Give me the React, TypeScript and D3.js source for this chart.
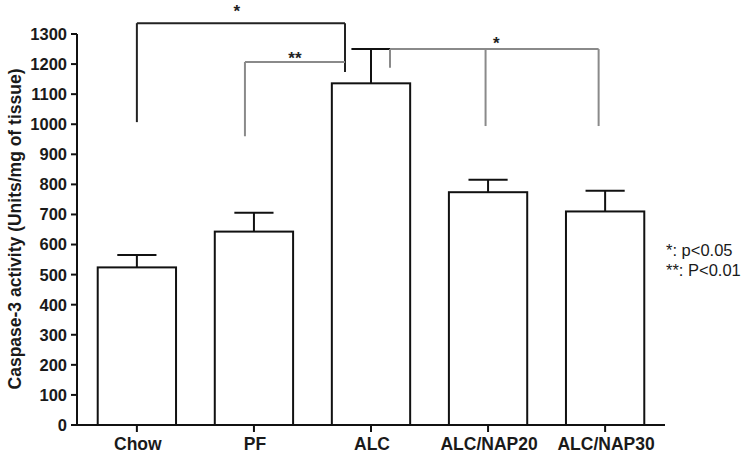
import React from "react";
import * as d3 from "d3";

const categories = ["Chow", "PF", "ALC", "ALC/NAP20", "ALC/NAP30"];
const means = [524, 643, 1136, 774, 710];
const errors = [41, 63, 114, 41, 69];
const yTicks = [0, 100, 200, 300, 400, 500, 600, 700, 800, 900, 1000, 1100, 1200, 1300];
const legendLines = ["*: p<0.05", "**: P<0.01"];

// significance brackets: legs given as [category, pixel offset from band centre, bottom value]
const brackets = [
  { label: "*", top: 1336, color: "#222", legs: [["Chow", 0, 1007], ["ALC", -26, 1174]], starAt: 0.48, starLift: 6 },
  { label: "**", top: 1207, color: "#8a8a8a", legs: [["PF", -9, 960], ["ALC", -26, 1207]], starAt: 0.5, starLift: -2 },
  { label: "*", top: 1250, color: "#8a8a8a", legs: [["ALC", 19, 1188], ["ALC/NAP20", -2.5, 994], ["ALC/NAP30", -6.5, 994]], starAt: 0.51, starLift: 0 },
];

const W = 750;
const H = 461;
const FONT = "Liberation Sans, Arial, Helvetica, sans-serif";

export default function App() {
  const x = d3.scaleBand<string>().domain(categories).range([77, 665]).paddingInner(0.331).paddingOuter(0.177);
  const y = d3.scaleLinear().domain([0, 1300]).range([425, 34]);
  const bw = x.bandwidth();
  const cx = (c: string) => (x(c) as number) + bw / 2;

  return (
    <svg width={W} height={H} style={{ position: "absolute", left: 0, top: 0, background: "#fff" }} fontFamily={FONT}>
      <rect width={W} height={H} fill="#fff" />
      {/* bars */}
      {categories.map((c, i) => (
        <g key={c}>
          <rect x={x(c)} y={y(means[i])} width={bw} height={y(0) - y(means[i])} fill="#fff" stroke="#111" strokeWidth={2} />
          <line x1={cx(c)} x2={cx(c)} y1={y(means[i])} y2={y(means[i] + errors[i])} stroke="#111" strokeWidth={2} />
          <line x1={cx(c) - bw / 4} x2={cx(c) + bw / 4} y1={y(means[i] + errors[i])} y2={y(means[i] + errors[i])} stroke="#111" strokeWidth={2} />
        </g>
      ))}
      {/* y axis */}
      <line x1={77} x2={77} y1={y(1300)} y2={y(0)} stroke="#111" strokeWidth={2} />
      {yTicks.map((t) => (
        <g key={t}>
          <line x1={71} x2={77} y1={y(t)} y2={y(t)} stroke="#111" strokeWidth={2} />
          <text x={67} y={y(t)} dy="0.36em" textAnchor="end" fontSize={16.5} fontWeight="bold" fill="#1a1a1a">{t}</text>
        </g>
      ))}
      {/* x axis */}
      <line x1={72} x2={665} y1={y(0)} y2={y(0)} stroke="#111" strokeWidth={2} />
      {categories.map((c) => (
        <g key={c}>
          <line x1={cx(c)} x2={cx(c)} y1={y(0)} y2={y(0) + 7} stroke="#111" strokeWidth={2} />
          <text x={cx(c) + 1} y={450} textAnchor="middle" fontSize={17.5} fontWeight="bold" fill="#1a1a1a">{c}</text>
        </g>
      ))}
      {/* y title */}
      <text transform={`translate(21,229) rotate(-90)`} textAnchor="middle" fontSize={17.5} fontWeight="bold" fill="#1a1a1a">
        Caspase-3 activity (Units/mg of tissue)
      </text>
      {/* brackets */}
      {brackets.map((b, bi) => {
        const xs = b.legs.map((l) => cx(l[0] as string) + (l[1] as number));
        const x0 = Math.min(...xs);
        const x1 = Math.max(...xs);
        const yt = y(b.top);
        return (
          <g key={bi}>
            <line x1={x0} x2={x1} y1={yt} y2={yt} stroke={b.color} strokeWidth={2} />
            {b.legs.map((l, li) => (
              <line key={li} x1={xs[li]} x2={xs[li]} y1={yt} y2={y(l[2] as number)} stroke={b.color} strokeWidth={2} />
            ))}
            <text x={x0 + (x1 - x0) * b.starAt} y={yt - b.starLift} textAnchor="middle" fontSize={17} fontWeight="bold" fill="#222">{b.label}</text>
          </g>
        );
      })}
      {/* legend */}
      {legendLines.map((t, i) => (
        <text key={t} x={666} y={256 + i * 20} fontSize={16.5} fill="#1a1a1a">{t}</text>
      ))}
    </svg>
  );
}
